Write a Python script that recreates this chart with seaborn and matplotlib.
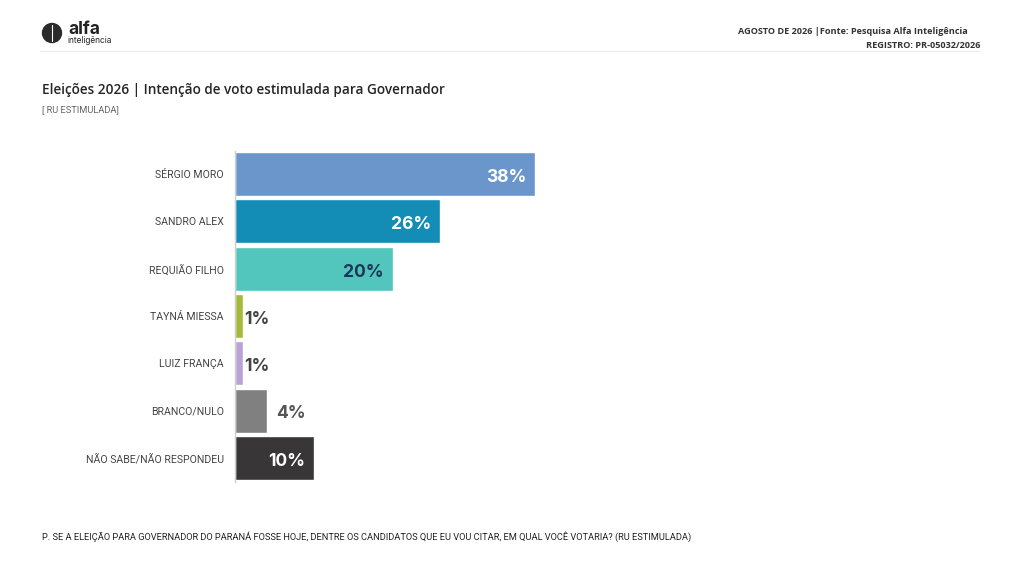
import matplotlib
matplotlib.use("Agg")
import matplotlib.pyplot as plt
import matplotlib.patches as mpatches
import seaborn as sns
import pandas as pd
import numpy as np

candidatos = ["SÉRGIO MORO", "SANDRO ALEX", "REQUIÃO FILHO", "TAYNÁ MIESSA",
              "LUIZ FRANÇA", "BRANCO/NULO", "NÃO SABE/NÃO RESPONDEU"]
votos = [38, 26, 20, 1, 1, 4, 10]

titulo = "Eleições 2026 | Intenção de voto estimulada para Governador"
subtitulo = "[ RU ESTIMULADA]"
cabecalho_1 = "AGOSTO DE 2026 |Fonte: Pesquisa Alfa Inteligência"
cabecalho_2 = "REGISTRO: PR-05032/2026"
pergunta = ("P. SE A ELEIÇÃO PARA GOVERNADOR DO PARANÁ FOSSE HOJE, DENTRE OS CANDIDATOS "
            "QUE EU VOU CITAR, EM QUAL VOCÊ VOTARIA? (RU ESTIMULADA)")

cores = ["#6b96cc", "#138db5", "#52c5bd", "#a6b93a", "#b9a3d6", "#808080", "#383636"]
cores_rotulo = ["#ffffff", "#ffffff", "#1d3557", "#444444", "#444444", "#555555", "#ffffff"]

sns.set_style("white")
plt.rcParams["font.family"] = ["Open Sans", "DejaVu Sans"]

df = pd.DataFrame({"candidato": candidatos, "voto": votos})

W, H = 1024, 576
fig = plt.figure(figsize=(W / 100, H / 100), dpi=100)
fig.patch.set_facecolor("white")

# eixo do grafico
ax = fig.add_axes([235 / W, 1 - 481.5 / H, 632 / W, 331 / H])
sns.barplot(data=df, x="voto", y="candidato", hue="candidato", palette=cores,
            legend=False, width=0.93, ax=ax, saturation=1)
ax.set_xlim(0, 80)
ax.set_ylim(6.5, -0.5)
ax.set_xlabel("")
ax.set_ylabel("")
ax.set_xticks([])
for s in ["top", "right", "bottom"]:
    ax.spines[s].set_visible(False)
ax.spines["left"].set_color("#d0d0d0")
ax.spines["left"].set_linewidth(1)
ax.set_yticks(np.arange(len(candidatos)))
ax.set_yticklabels(candidatos, fontsize=7.6, color="#444444", family="Roboto")
ax.tick_params(axis="y", which="major", length=0, pad=8)
ax.set_yticks(np.arange(-0.5, len(candidatos)), minor=True)
ax.tick_params(axis="y", which="minor", length=3, color="#c8c8c8", width=1)

px = 80 / 632  # unidades por pixel
for i, v in enumerate(votos):
    if v >= 10:
        ax.text(v - 9 * px, i + 0.03, f"{v}%", ha="right", va="center_baseline",
                fontsize=12.6, fontweight="bold", color=cores_rotulo[i], family="Inter")
    else:
        off = 10 if v > 2 else 1
        ax.text(v + off * px, i + 0.03, f"{v}%", ha="left", va="center_baseline",
                fontsize=12.6, fontweight="bold", color=cores_rotulo[i], family="Inter")

# cabecalho
fig.text(68 / W, 1 - 34 / H, "alfa", fontsize=12.5, fontweight="bold", color="#222222",
         family="Inter", va="baseline")
fig.text(68 / W, 1 - 43 / H, "inteligência", fontsize=6, color="#222222",
         family="Inter", va="baseline")
icon = mpatches.Ellipse((52 / W, 1 - 33 / H), 19 / W, 19 / H, transform=fig.transFigure,
                        color="#2b2b2b")
fig.patches.append(icon)
fig.add_artist(plt.Line2D([52 / W, 52 / W], [1 - 25 / H, 1 - 41 / H],
                          transform=fig.transFigure, color="white", lw=0.8))
fig.add_artist(plt.Line2D([40 / W, 980 / W], [1 - 51 / H, 1 - 51 / H],
                          transform=fig.transFigure, color="#ececec", lw=0.8))
fig.text(968 / W, 1 - 31 / H, cabecalho_1, fontsize=6.6, fontweight="bold",
         color="#333333", ha="right", va="center")
fig.text(980 / W, 1 - 45 / H, cabecalho_2, fontsize=6.6, fontweight="bold",
         color="#333333", ha="right", va="center")

# titulos
fig.text(42 / W, 1 - 90 / H, titulo, fontsize=9.85, fontweight="semibold",
         color="#262626", va="center")
fig.text(42 / W, 1 - 110 / H, subtitulo, fontsize=6.7, color="#666666", va="center",
         family="Roboto")

# rodape
fig.text(42 / W, 1 - 537 / H, pergunta, fontsize=6.7, color="#222222", va="center",
         family="Roboto")

fig.savefig("out.png", dpi=100, facecolor="white")
